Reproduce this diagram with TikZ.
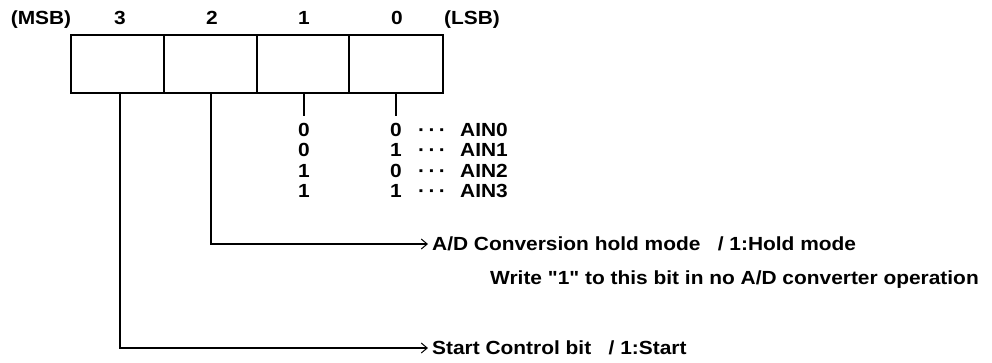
\documentclass[tikz,border=0pt]{standalone}
\usepackage{fontspec}
\setmainfont{Liberation Sans}[FakeStretch=1.1,Ligatures=TeXOff]
\usetikzlibrary{arrows.meta}
\begin{document}
\begin{tikzpicture}[x=1pt,y=-1pt,
  reg/.style={draw,line width=1.5pt,minimum height=58pt,inner sep=0pt,outer sep=0pt},
  lbl/.style={inner sep=0pt,text height=13.7pt,text depth=0pt,font=\fontsize{19}{20}\selectfont\bfseries},
  txt/.style={inner ysep=0pt,inner xsep=4pt,anchor=west,text height=13.7pt,text depth=0pt,font=\fontsize{19}{20}\selectfont\bfseries},
  ln/.style={line width=1.3pt},
  arr/.style={line width=1.3pt,-{Straight Barb[length=6pt,width=10pt,line width=1pt]}}]
\useasboundingbox (0,0) rectangle (992,362);
% register boxes
\node[reg,minimum width=93pt] (b3) at (117.5,64) {};
\node[reg,minimum width=93pt] (b2) at (210.5,64) {};
\node[reg,minimum width=92pt] (b1) at (303,64) {};
\node[reg,minimum width=94pt] (b0) at (396,64) {};
% header labels
\node[lbl] (msb) at (41,18) {(MSB)};
\node[lbl] (n3) at (120,18) {3};
\node[lbl] (n2) at (212,18) {2};
\node[lbl] (n1) at (304,18) {1};
\node[lbl] (n0) at (397,18) {0};
\node[lbl] (lsb) at (472,18) {(LSB)};
% bit 1 and 0 selection table
\coordinate (t1) at (304,116);
\coordinate (t0) at (396,116);
\draw[ln] (b1.south -| t1) -- (t1);
\draw[ln] (b0.south -| t0) -- (t0);
\foreach \r/\a/\b/\c in {0/0/0/0,1/0/1/1,2/1/0/2,3/1/1/3}{
  \node[lbl] (c1r\r) at (304,{129.5+20.5*\r}) {\a};
  \node[lbl] (c0r\r) at (396,{129.5+20.5*\r}) {\b};
  \node[lbl] (dots\r) at (432,{129.5+20.5*\r}) {·\hspace{3.5pt}·\hspace{3.5pt}·};
  \node[txt,inner xsep=0pt] (ain\r) at (460,{129.5+20.5*\r}) {AIN\c};
}
% bit 2
\coordinate (k2) at (211,244);
\node[txt] (hold) at (428,244) {A/D Conversion hold mode \ \ / 1:Hold mode};
\node[txt,inner xsep=0pt] (write) at (490,278) {Write "1" to this bit in no A/D converter operation};
\draw[arr] (b2.south -| k2) -- (k2) -- (hold.west);
% bit 3
\coordinate (k3) at (120,348);
\node[txt] (start) at (428,348) {Start Control bit \ \ / 1:Start};
\draw[arr] (b3.south -| k3) -- (k3) -- (start.west);
\end{tikzpicture}
\end{document}
